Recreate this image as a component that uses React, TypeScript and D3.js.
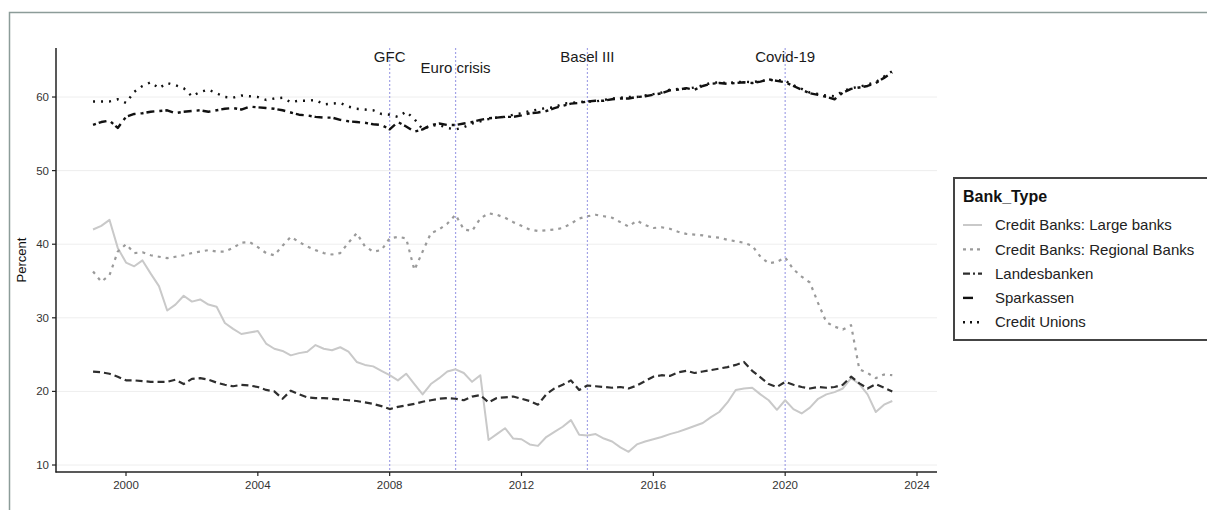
import React from 'react';
import * as d3 from 'd3';

// ---- DATA (quarterly, starting 1999 Q1) ----
const startYear = 1999;
const stepYears = 0.25;

const largeBanks = [
  42.0, 42.5, 43.3, 39.5,
  37.5, 37.0, 37.8, 36.0,
  34.3, 31.0, 31.8, 33.0,
  32.2, 32.5, 31.8, 31.5,
  29.3, 28.5, 27.8, 28.0,
  28.2, 26.5, 25.8, 25.5,
  24.9, 25.2, 25.4, 26.3,
  25.8, 25.6, 26.0, 25.4,
  24.0, 23.6, 23.4, 22.8,
  22.2, 21.5, 22.4, 21.0,
  19.6, 21.0, 21.8, 22.7,
  23.0, 22.5, 21.3, 22.2,
  13.4, 14.2, 15.0, 13.6,
  13.5, 12.8, 12.6, 13.8,
  14.5, 15.2, 16.1, 14.1,
  14.0, 14.2, 13.6, 13.2,
  12.4, 11.8, 12.8, 13.2,
  13.5, 13.8, 14.2, 14.5,
  14.9, 15.3, 15.7, 16.5,
  17.2, 18.5, 20.2, 20.4,
  20.5, 19.6, 18.8, 17.5,
  18.8, 17.6, 17.0, 17.8,
  19.0, 19.6, 19.9, 20.4,
  21.8, 21.0, 19.6, 17.2,
  18.2, 18.7,
];

const regionalBanks = [
  36.3, 34.9, 35.8, 39.0,
  40.0, 38.8, 38.9, 38.5,
  38.3, 38.1, 38.3, 38.5,
  38.8, 39.0, 39.2, 39.0,
  39.0, 39.5, 40.2, 40.3,
  39.6, 38.8, 38.5, 39.8,
  41.0, 40.3, 39.7, 39.2,
  38.8, 38.6, 38.8, 40.2,
  41.5, 39.7, 39.0, 39.2,
  40.8, 41.0, 40.8, 36.5,
  39.0, 41.5, 42.0, 42.8,
  44.0, 42.0, 41.8, 43.5,
  44.2, 44.0, 43.6, 43.0,
  42.5, 42.0, 41.8, 41.9,
  42.0, 42.2, 42.8, 43.5,
  43.8, 44.0, 43.8, 43.6,
  43.0, 42.4, 43.2, 42.6,
  42.2, 42.3, 42.1, 41.7,
  41.4, 41.3, 41.2, 41.0,
  40.9, 40.6, 40.4, 40.2,
  39.8, 38.3, 37.4, 37.6,
  38.2, 36.6, 35.6, 34.8,
  32.0, 29.4, 28.8, 28.4,
  29.0, 23.0, 22.5, 21.8,
  22.3, 22.2,
];

const landesbanken = [
  22.7, 22.6, 22.4, 22.0,
  21.5, 21.5, 21.4, 21.3,
  21.3, 21.3, 21.6, 21.0,
  21.7, 21.8, 21.6, 21.2,
  20.9, 20.7, 20.9, 20.8,
  20.6, 20.2, 20.0, 19.0,
  20.1, 19.6, 19.2, 19.1,
  19.1, 19.0, 18.9, 18.8,
  18.7, 18.5, 18.3, 18.0,
  17.6, 17.9, 18.1, 18.3,
  18.6, 18.8, 19.0, 19.1,
  19.0, 18.8, 19.3, 19.5,
  18.5, 19.1, 19.2, 19.3,
  19.0, 18.7, 18.2, 19.6,
  20.4, 20.9, 21.5, 20.2,
  20.8, 20.7, 20.6, 20.5,
  20.6, 20.4, 20.8, 21.4,
  22.0, 22.2, 22.1, 22.6,
  22.8, 22.5, 22.7, 22.9,
  23.1, 23.3, 23.6, 24.0,
  22.8, 21.9, 21.0, 20.6,
  21.3, 20.9, 20.6, 20.4,
  20.6, 20.5, 20.6, 20.9,
  22.0, 21.1, 20.4, 21.0,
  20.5, 20.0,
];

const sparkassen = [
  56.2, 56.6, 56.8, 55.8,
  57.3, 57.7, 57.8, 58.0,
  58.1, 58.2, 57.8, 58.0,
  58.1, 58.2, 58.0, 58.2,
  58.4, 58.5, 58.3, 58.7,
  58.6, 58.5, 58.4, 58.2,
  57.9, 57.6, 57.5, 57.3,
  57.2, 57.2, 56.9, 56.7,
  56.6, 56.5, 56.3, 56.2,
  55.6, 56.6, 56.0, 55.3,
  55.6, 56.2, 56.4, 56.2,
  56.2, 56.4, 56.6, 56.9,
  57.1, 57.2, 57.3, 57.3,
  57.5, 57.8, 57.9, 58.1,
  58.5, 58.8, 59.1, 59.2,
  59.4, 59.5, 59.5, 59.7,
  59.8, 59.8, 60.0, 60.1,
  60.3, 60.5, 60.9, 61.0,
  61.2, 61.0, 61.5, 61.8,
  61.9, 61.8, 61.9, 62.0,
  61.9, 62.1, 62.4, 62.2,
  62.0, 61.5, 61.0, 60.5,
  60.3, 60.0, 59.7, 60.6,
  61.1, 61.3, 61.5, 61.9,
  62.6, 63.3,
];

const creditUnions = [
  59.4, 59.4, 59.4, 59.7,
  59.2, 60.7, 61.5, 62.0,
  61.2, 61.9, 61.6, 61.2,
  60.1, 60.7, 61.0, 60.5,
  60.0, 59.9, 60.2, 60.1,
  60.0, 59.6, 59.8, 59.9,
  59.3, 59.5, 59.5, 59.6,
  59.0, 59.1, 59.2, 58.7,
  58.4, 58.3, 58.2, 57.7,
  57.6, 57.3, 58.0, 57.0,
  55.6, 56.1, 56.2, 55.8,
  55.6, 55.9, 56.4, 56.7,
  57.0, 57.2, 57.3, 57.6,
  57.8, 58.1, 58.3, 58.5,
  58.6, 59.1, 59.2, 59.3,
  59.4, 59.4, 59.6, 59.8,
  59.9, 60.0, 60.0, 60.2,
  60.4, 60.6, 61.0, 61.1,
  61.1, 61.3, 61.6, 61.9,
  62.0, 61.9, 62.0, 62.1,
  62.0, 62.2, 62.3, 62.3,
  62.2, 61.6, 61.1, 60.6,
  60.4, 60.2, 60.1, 60.8,
  61.2, 61.4, 61.7, 62.0,
  62.8, 63.5,
];

const seriesNames = [
  'Credit Banks: Large banks',
  'Credit Banks: Regional Banks',
  'Landesbanken',
  'Sparkassen',
  'Credit Unions',
];
const seriesValues = [largeBanks, regionalBanks, landesbanken, sparkassen, creditUnions];

const eventLabels = ['GFC', 'Euro crisis', 'Basel III', 'Covid-19'];
const eventYears = [2008, 2010, 2014, 2020];

const xTickValues = [2000, 2004, 2008, 2012, 2016, 2020, 2024];
const yTickValues = [10, 20, 30, 40, 50, 60];

// ---- STYLES ----
const seriesStyles = [
  { color: '#c9c9c9', dash: '', width: 2 },
  { color: '#9a9a9a', dash: '3,5', width: 2.2 },
  { color: '#2e2e2e', dash: '7,4', width: 2.2 },
  { color: '#111111', dash: '3,3,8,5', width: 2.4 },
  { color: '#111111', dash: '2,6', width: 2.4 },
];
const legendDash = ['', '3,4', '7,3,2,3', '10,10', '2,5'];
const eventLabelRow = [0, 1, 0, 0];

const W = 1207;
const H = 510;
const plot = { left: 56, right: 937, top: 48, bottom: 472 };
const font = '"Liberation Sans", Arial, Helvetica, sans-serif';

export default function App() {
  const x = d3.scaleLinear().domain([1997.876, 2024.607]).range([plot.left, plot.right]);
  const y = d3.scaleLinear().domain([9.05, 66.66]).range([plot.bottom, plot.top]);

  const line = d3
    .line<number>()
    .x((_, i) => x(startYear + i * stepYears))
    .y((v) => y(v));

  const legend = { x: 954, y: 178, w: 260, h: 162 };

  return (
    <svg
      width={W}
      height={H}
      style={{ position: 'absolute', left: 0, top: 0, display: 'block', background: '#fff' }}
      fontFamily={font}
    >
      <rect x={0} y={0} width={W} height={H} fill="#fff" />
      {/* outer frame */}
      <rect x={9.5} y={12.5} width={W + 20} height={H + 20} fill="none" stroke="#8c9c99" strokeWidth={1.5} />

      {/* gridlines */}
      {yTickValues.map((t) => (
        <line key={'g' + t} x1={plot.left} x2={plot.right} y1={y(t)} y2={y(t)} stroke="#eeeeee" strokeWidth={1} />
      ))}

      {/* event lines */}
      {eventYears.map((yr, i) => (
        <line
          key={'ev' + i}
          x1={x(yr)}
          x2={x(yr)}
          y1={plot.top}
          y2={plot.bottom}
          stroke="#a3a3e6"
          strokeWidth={1.2}
          strokeDasharray="2,2"
        />
      ))}

      {/* series */}
      {seriesValues.map((vals, i) => (
        <path
          key={'s' + i}
          d={line(vals) || ''}
          fill="none"
          stroke={seriesStyles[i].color}
          strokeWidth={seriesStyles[i].width}
          strokeDasharray={seriesStyles[i].dash || undefined}
          strokeLinejoin="round"
        />
      ))}

      {/* event labels */}
      {eventLabels.map((lab, i) => (
        <text
          key={'el' + i}
          x={x(eventYears[i])}
          y={62 + eventLabelRow[i] * 11}
          textAnchor="middle"
          fontSize={15}
          fill="#1a1a1a"
        >
          {lab}
        </text>
      ))}

      {/* axes */}
      <line x1={plot.left} x2={plot.left} y1={plot.top} y2={plot.bottom + 0.5} stroke="#222" strokeWidth={1.5} />
      <line x1={plot.left - 0.5} x2={plot.right} y1={plot.bottom} y2={plot.bottom} stroke="#222" strokeWidth={1.5} />

      {yTickValues.map((t) => (
        <g key={'yt' + t}>
          <line x1={plot.left - 4} x2={plot.left} y1={y(t)} y2={y(t)} stroke="#222" strokeWidth={1.2} />
          <text x={plot.left - 7} y={y(t)} dy="0.35em" textAnchor="end" fontSize={11.5} fill="#333">
            {t}
          </text>
        </g>
      ))}
      {xTickValues.map((t) => (
        <g key={'xt' + t}>
          <line x1={x(t)} x2={x(t)} y1={plot.bottom} y2={plot.bottom + 4} stroke="#222" strokeWidth={1.2} />
          <text x={x(t)} y={plot.bottom + 17} textAnchor="middle" fontSize={11.5} fill="#333">
            {t}
          </text>
        </g>
      ))}

      <text
        transform={`translate(26, ${(plot.top + plot.bottom) / 2}) rotate(-90)`}
        textAnchor="middle"
        fontSize={13}
        fill="#111"
      >
        Percent
      </text>

      {/* legend */}
      <rect x={legend.x} y={legend.y} width={legend.w} height={legend.h} fill="#fff" stroke="#444" strokeWidth={2} />
      <text x={963} y={202} fontSize={16} fontWeight="bold" fill="#111">
        Bank_Type
      </text>
      {seriesNames.map((name, i) => {
        const cy = 225 + i * 24.3;
        return (
          <g key={'lg' + i}>
            <line
              x1={963}
              x2={982}
              y1={cy}
              y2={cy}
              stroke={seriesStyles[i].color}
              strokeWidth={seriesStyles[i].width}
              strokeDasharray={legendDash[i] || undefined}
            />
            <text x={995} y={cy} dy="0.35em" fontSize={15} fill="#222">
              {name}
            </text>
          </g>
        );
      })}
    </svg>
  );
}
